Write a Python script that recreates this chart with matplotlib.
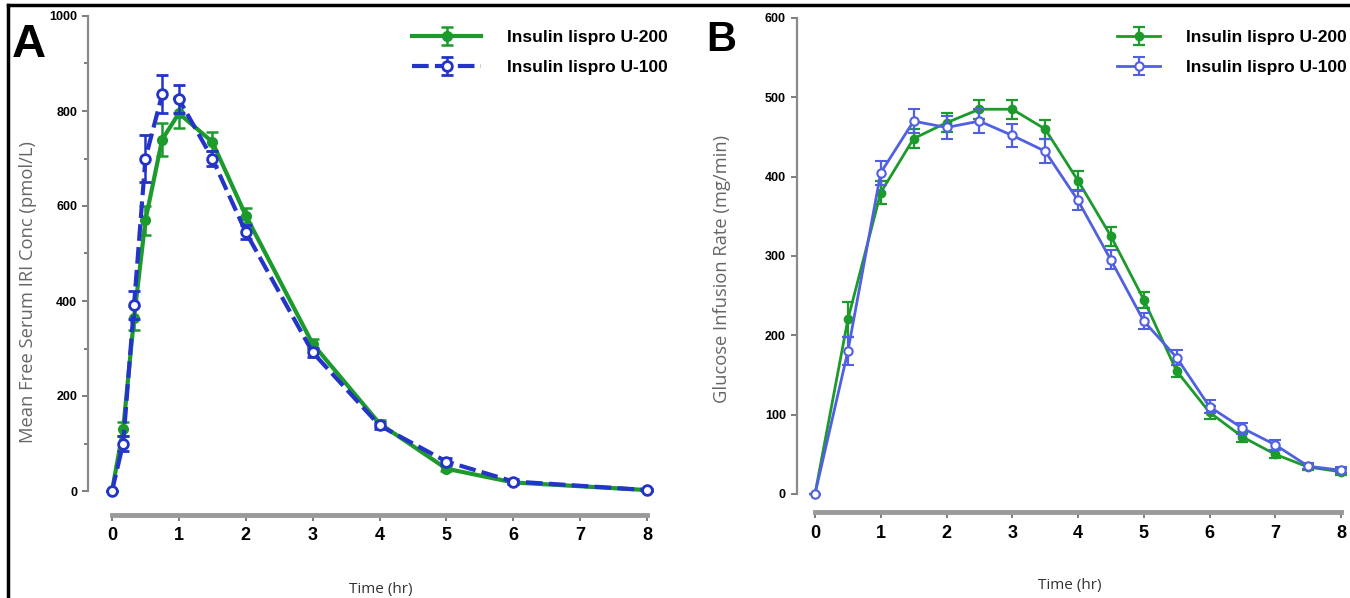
import matplotlib.pyplot as plt
from matplotlib.ticker import MultipleLocator

plt.rcParams['font.family'] = ['Liberation Sans Narrow', 'Liberation Sans', 'DejaVu Sans']

# Panel A: free serum IRI concentration
time_a = [0, 0.167, 0.33, 0.5, 0.75, 1, 1.5, 2, 3, 4, 5, 6, 8]
iri_u200 = [0, 130, 365, 570, 740, 795, 735, 580, 310, 142, 47, 18, 2]
iri_u200_err = [0, 15, 25, 30, 35, 30, 20, 15, 10, 8, 5, 4, 2]
iri_u100 = [0, 100, 392, 700, 835, 825, 700, 545, 292, 138, 62, 20, 2]
iri_u100_err = [0, 15, 30, 50, 40, 30, 15, 15, 10, 8, 8, 5, 2]

# Panel B: glucose infusion rate
time_b = [0, 0.5, 1, 1.5, 2, 2.5, 3, 3.5, 4, 4.5, 5, 5.5, 6, 6.5, 7, 7.5, 8]
gir_u200 = [0, 220, 380, 448, 468, 485, 485, 460, 395, 325, 245, 155, 103, 72, 50, 34, 28]
gir_u200_err = [0, 22, 15, 12, 12, 12, 12, 12, 12, 12, 10, 8, 8, 6, 5, 4, 4]
gir_u100 = [0, 180, 405, 470, 462, 470, 452, 432, 370, 295, 218, 172, 110, 83, 62, 35, 30]
gir_u100_err = [0, 18, 15, 15, 15, 15, 15, 15, 12, 12, 10, 10, 8, 7, 6, 4, 4]

labels = ['Insulin lispro U-200', 'Insulin lispro U-100']
green = '#1c9a2c'
blue_a = '#2434c8'
blue_b = '#5060e0'
W, H = 1350, 598

fig = plt.figure(figsize=(13.5, 5.98), dpi=100)

# outer frame lines
fig.add_artist(plt.Line2D([8 / W, 1.0], [1 - 5 / H] * 2, color='black', lw=2.5))
fig.add_artist(plt.Line2D([8 / W] * 2, [0, 1 - 5 / H], color='black', lw=2.5))

axA = fig.add_axes([112 / W, 1 - 491 / H, 535 / W, 475 / H])
axB = fig.add_axes([815 / W, 1 - 494 / H, 526 / W, 476 / H])


def style_axis(ax, ymax, ystep, yminor, out_x, out_y):
    ax.set_xlim(0, 8)
    ax.set_ylim(0, ymax)
    for s in ['top', 'right']:
        ax.spines[s].set_visible(False)
    ax.spines['left'].set_position(('outward', out_x))
    ax.spines['bottom'].set_position(('outward', out_y))
    ax.spines['left'].set_color('#8a8a8a')
    ax.spines['left'].set_linewidth(1.6)
    ax.spines['bottom'].set_color('#9a9a9a')
    ax.spines['bottom'].set_linewidth(3.5)
    ax.xaxis.set_major_locator(MultipleLocator(1))
    ax.yaxis.set_major_locator(MultipleLocator(ystep))
    if yminor:
        ax.yaxis.set_minor_locator(MultipleLocator(yminor))
    ax.tick_params(axis='y', colors='#666666', length=4, width=1.2, labelsize=9,
                   labelcolor='black', pad=4)
    ax.tick_params(axis='y', which='minor', colors='#666666', length=3, width=1.2)
    ax.tick_params(axis='x', colors='#666666', length=4, width=1.2, labelsize=13,
                   labelcolor='black', pad=5)
    for t in ax.get_xticklabels() + ax.get_yticklabels():
        t.set_fontweight('bold')


style_axis(axA, 1000, 200, 100, 17, 17)
style_axis(axB, 600, 100, None, 13, 13)

# panel A curves
axA.errorbar(time_a, iri_u200, yerr=iri_u200_err, color=green, lw=3, marker='o', ms=7,
             mfc=green, mec=green, capsize=4, elinewidth=1.8, capthick=1.8,
             clip_on=False, label=labels[0], zorder=3)
axA.errorbar(time_a, iri_u100, yerr=iri_u100_err, color=blue_a, lw=3, ls=(0, (4, 1.5)),
             marker='o', ms=7, mfc='white', mec=blue_a, mew=2, capsize=4,
             elinewidth=1.8, capthick=1.8, clip_on=False, label=labels[1], zorder=4)

# panel B curves
axB.errorbar(time_b, gir_u200, yerr=gir_u200_err, color=green, lw=2, marker='o', ms=6,
             mfc=green, mec=green, capsize=4, elinewidth=1.6, capthick=1.6,
             clip_on=False, label=labels[0], zorder=3)
axB.errorbar(time_b, gir_u100, yerr=gir_u100_err, color=blue_b, lw=2, marker='o', ms=6,
             mfc='white', mec=blue_b, mew=1.5, capsize=4, elinewidth=1.6, capthick=1.6,
             clip_on=False, label=labels[1], zorder=4)

# legends placed in figure pixels
for ax, x0, hl in [(axA, 412, 4.0), (axB, 1117, 2.5)]:
    h, l = ax.get_legend_handles_labels()
    leg = ax.legend(h, l, loc='upper left', bbox_to_anchor=(x0 / W, 1 - 30 / H),
                    bbox_transform=fig.transFigure, frameon=False, borderpad=0,
                    borderaxespad=0, fontsize=12.5, handlelength=hl,
                    handletextpad=1.45, labelspacing=0.85)
    for t in leg.get_texts():
        t.set_fontweight('bold')

lab_font = ['Open Sans', 'DejaVu Sans']
fig.text(28 / W, 1 - 292 / H, 'Mean Free Serum IRI Conc (pmol/L)', rotation=90,
         ha='center', va='center', color='#666666', fontsize=13.2, family=lab_font)
fig.text(722 / W, 1 - 269 / H, 'Glucose Infusion Rate (mg/min)', rotation=90,
         ha='center', va='center', color='#666666', fontsize=13.2, family=lab_font)

fig.text(381 / W, 1 - 589 / H, 'Time (hr)', ha='center', va='center', fontsize=11,
         color='#333333', family=lab_font)
fig.text(1070 / W, 1 - 585 / H, 'Time (hr)', ha='center', va='center', fontsize=11,
         color='#333333', family=lab_font)

fig.text(12 / W, 1 - 45 / H, 'A', ha='left', va='center', fontsize=34,
         fontweight='bold', family=['Liberation Sans', 'DejaVu Sans'])
fig.text(706 / W, 1 - 40 / H, 'B', ha='left', va='center', fontsize=30,
         fontweight='bold', family=['Liberation Sans', 'DejaVu Sans'])

fig.savefig('out.png', dpi=100)
